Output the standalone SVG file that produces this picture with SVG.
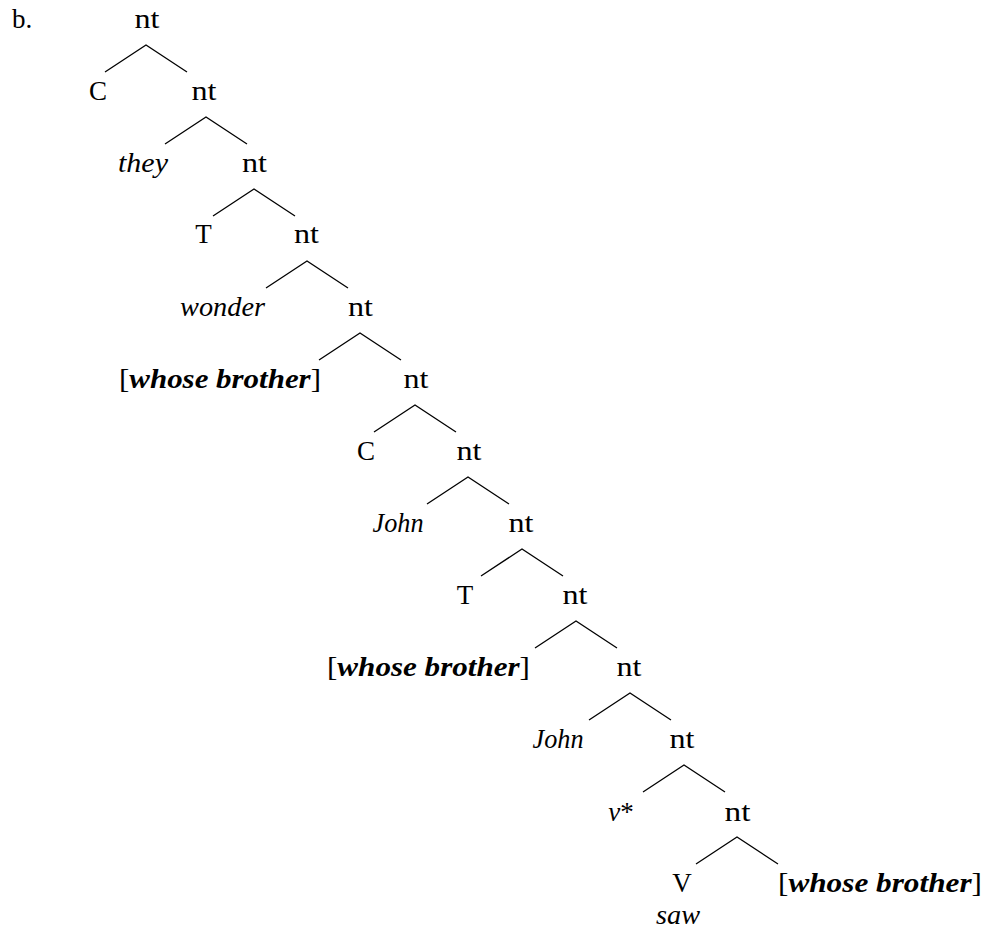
<svg xmlns="http://www.w3.org/2000/svg" width="987" height="931" viewBox="0 0 987 931">
<style>
text{font-family:"Liberation Serif","Times New Roman",serif;font-size:27px;fill:#000;text-anchor:middle}
.i{font-style:italic}
.bi{font-style:italic;font-weight:bold}
.e{fill:none;stroke:#000;stroke-width:1.3}
</style>
<rect width="987" height="931" fill="#fff"/>
<g id="connectors">
<path class="e" d="M105 72L146 45L187 72"/>
<path class="e" d="M165 144L206 117L247 144"/>
<path class="e" d="M213 216L254 189L295 216"/>
<path class="e" d="M266 288L307 261L348 288"/>
<path class="e" d="M319 360L360 333L401 360"/>
<path class="e" d="M374 432L415 405L456 432"/>
<path class="e" d="M427 504L468 477L509 504"/>
<path class="e" d="M481 576L522 549L563 576"/>
<path class="e" d="M535 648L576 621L617 648"/>
<path class="e" d="M589 720L630 693L671 720"/>
<path class="e" d="M643 792L684 765L725 792"/>
<path class="e" d="M696 864L737 837L778 864"/>
</g>
<g id="label-b"><text x="12" y="28" style="text-anchor:start">b.</text></g>
<g id="n0"><text x="147" y="28" textLength="25" lengthAdjust="spacingAndGlyphs">nt</text></g>
<g id="C1"><text x="98" y="100">C</text></g>
<g id="n1"><text x="204" y="100" textLength="25" lengthAdjust="spacingAndGlyphs">nt</text></g>
<g id="they"><text class="i" x="143" y="172" textLength="50" lengthAdjust="spacingAndGlyphs">they</text></g>
<g id="n2"><text x="254.5" y="172" textLength="25" lengthAdjust="spacingAndGlyphs">nt</text></g>
<g id="T1"><text x="203.5" y="243">T</text></g>
<g id="n3"><text x="306.5" y="243" textLength="25" lengthAdjust="spacingAndGlyphs">nt</text></g>
<g id="wonder"><text class="i" x="222.5" y="316" textLength="85" lengthAdjust="spacingAndGlyphs">wonder</text></g>
<g id="n4"><text x="360.5" y="316" textLength="25" lengthAdjust="spacingAndGlyphs">nt</text></g>
<g id="wb1"><text x="220" y="388" textLength="202" lengthAdjust="spacingAndGlyphs">[<tspan class="bi">whose brother</tspan>]</text></g>
<g id="n5"><text x="416" y="388" textLength="25" lengthAdjust="spacingAndGlyphs">nt</text></g>
<g id="C2"><text x="366" y="460">C</text></g>
<g id="n6"><text x="469" y="460" textLength="25" lengthAdjust="spacingAndGlyphs">nt</text></g>
<g id="John1"><text class="i" x="398" y="532" textLength="51" lengthAdjust="spacingAndGlyphs">John</text></g>
<g id="n7"><text x="521" y="532" textLength="25" lengthAdjust="spacingAndGlyphs">nt</text></g>
<g id="T2"><text x="465" y="604">T</text></g>
<g id="n8"><text x="575" y="604" textLength="25" lengthAdjust="spacingAndGlyphs">nt</text></g>
<g id="wb2"><text x="428.5" y="676" textLength="203" lengthAdjust="spacingAndGlyphs">[<tspan class="bi">whose brother</tspan>]</text></g>
<g id="n9"><text x="629" y="676" textLength="25" lengthAdjust="spacingAndGlyphs">nt</text></g>
<g id="John2"><text class="i" x="558" y="748" textLength="51" lengthAdjust="spacingAndGlyphs">John</text></g>
<g id="n10"><text x="682" y="748" textLength="25" lengthAdjust="spacingAndGlyphs">nt</text></g>
<g id="vstar"><text x="621" y="821"><tspan class="i">v</tspan>*</text></g>
<g id="n11"><text x="737.5" y="821" textLength="26" lengthAdjust="spacingAndGlyphs">nt</text></g>
<g id="V"><text x="682" y="892">V</text></g>
<g id="saw"><text class="i" x="678" y="924" textLength="44" lengthAdjust="spacingAndGlyphs">saw</text></g>
<g id="wb3"><text x="880" y="892" textLength="204" lengthAdjust="spacingAndGlyphs">[<tspan class="bi">whose brother</tspan>]</text></g>
</svg>
